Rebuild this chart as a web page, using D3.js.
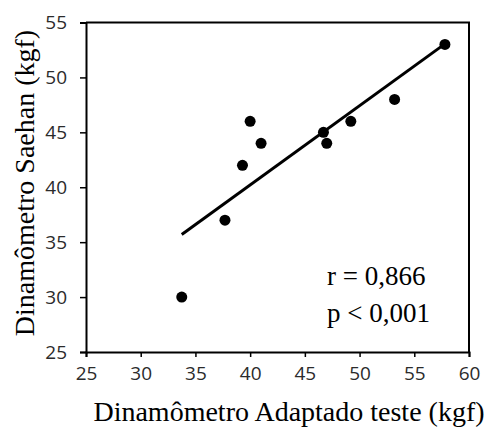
<!DOCTYPE html>
<html>
<head>
<meta charset="utf-8">
<script src="https://cdn.jsdelivr.net/npm/d3@7"></script>
<style>
  body { margin: 0; background: #fff; }
</style>
</head>
<body>
<svg id="chart"></svg>
<script>
// dynamometer readings (kgf)
const adaptado = [33.75, 37.7, 39.3, 40, 41, 46.7, 47, 49.2, 53.2, 57.8];
const saehan = [30, 37, 42, 46, 44, 45, 44, 46, 48, 53];
const xTicks = [25, 30, 35, 40, 45, 50, 55, 60];
const yTicks = [25, 30, 35, 40, 45, 50, 55];
const statsLines = ["r = 0,866", "p < 0,001"];

const W = 484, H = 428;
const margin = { top: 22.5, right: 15, bottom: 76, left: 86 };
const width = W - margin.left - margin.right;
const height = H - margin.top - margin.bottom;

const svg = d3.select("#chart").attr("width", W).attr("height", H);
const g = svg.append("g").attr("transform", `translate(${margin.left},${margin.top})`);

const x = d3.scaleLinear().domain([25, 60]).range([0, width]);
const y = d3.scaleLinear().domain([25, 55]).range([height, 0]);

const points = adaptado.map((d, i) => ({ x: d, y: saehan[i] }));

// frame (top and right)
g.append("path")
  .attr("d", `M0,0H${width}V${height}`)
  .attr("fill", "none")
  .attr("stroke", "#000")
  .attr("stroke-width", 2);

// axes
const xAxis = g.append("g")
  .attr("transform", `translate(0,${height})`)
  .call(d3.axisBottom(x).tickValues(xTicks).tickSize(5).tickPadding(10));
const yAxis = g.append("g")
  .call(d3.axisLeft(y).tickValues(yTicks).tickSize(6).tickPadding(13));

[xAxis, yAxis].forEach((ax) => {
  ax.select(".domain").attr("stroke", "#000").attr("stroke-width", 2);
  ax.selectAll(".tick line").attr("stroke", "#000").attr("stroke-width", 1.5);
  ax.selectAll(".tick text")
    .attr("fill", "#2b2b2b")
    .style("font-family", "'Open Sans', sans-serif")
    .style("font-size", "19px");
});

// least squares line
const mx = d3.mean(adaptado), my = d3.mean(saehan);
const slope = d3.sum(points, (p) => (p.x - mx) * (p.y - my)) /
  d3.sum(points, (p) => (p.x - mx) ** 2);
const icpt = my - slope * mx;
const [x0, x1] = d3.extent(adaptado);

g.append("line")
  .attr("x1", x(x0)).attr("y1", y(icpt + slope * x0))
  .attr("x2", x(x1)).attr("y2", y(icpt + slope * x1))
  .attr("stroke", "#000")
  .attr("stroke-width", 3);

g.selectAll(".dot")
  .data(points)
  .enter()
  .append("circle")
  .attr("class", "dot")
  .attr("cx", (d) => x(d.x))
  .attr("cy", (d) => y(d.y))
  .attr("r", 5.5)
  .attr("fill", "#000");

// r and p
g.selectAll(".stat")
  .data(statsLines)
  .enter()
  .append("text")
  .attr("class", "stat")
  .attr("x", 241)
  .attr("y", (d, i) => 262.5 + i * 37)
  .style("font-family", "'Liberation Serif', serif")
  .style("font-size", "27px")
  .text((d) => d);

// axis titles
svg.append("text")
  .attr("x", 289)
  .attr("y", 421)
  .attr("text-anchor", "middle")
  .style("font-family", "'Liberation Serif', serif")
  .style("font-size", "28px")
  .text("Dinamômetro Adaptado teste (kgf)");

svg.append("text")
  .attr("transform", "translate(34,183) rotate(-90)")
  .attr("text-anchor", "middle")
  .style("font-family", "'Liberation Serif', serif")
  .style("font-size", "28px")
  .text("Dinamômetro Saehan (kgf)");
</script>
</body>
</html>
